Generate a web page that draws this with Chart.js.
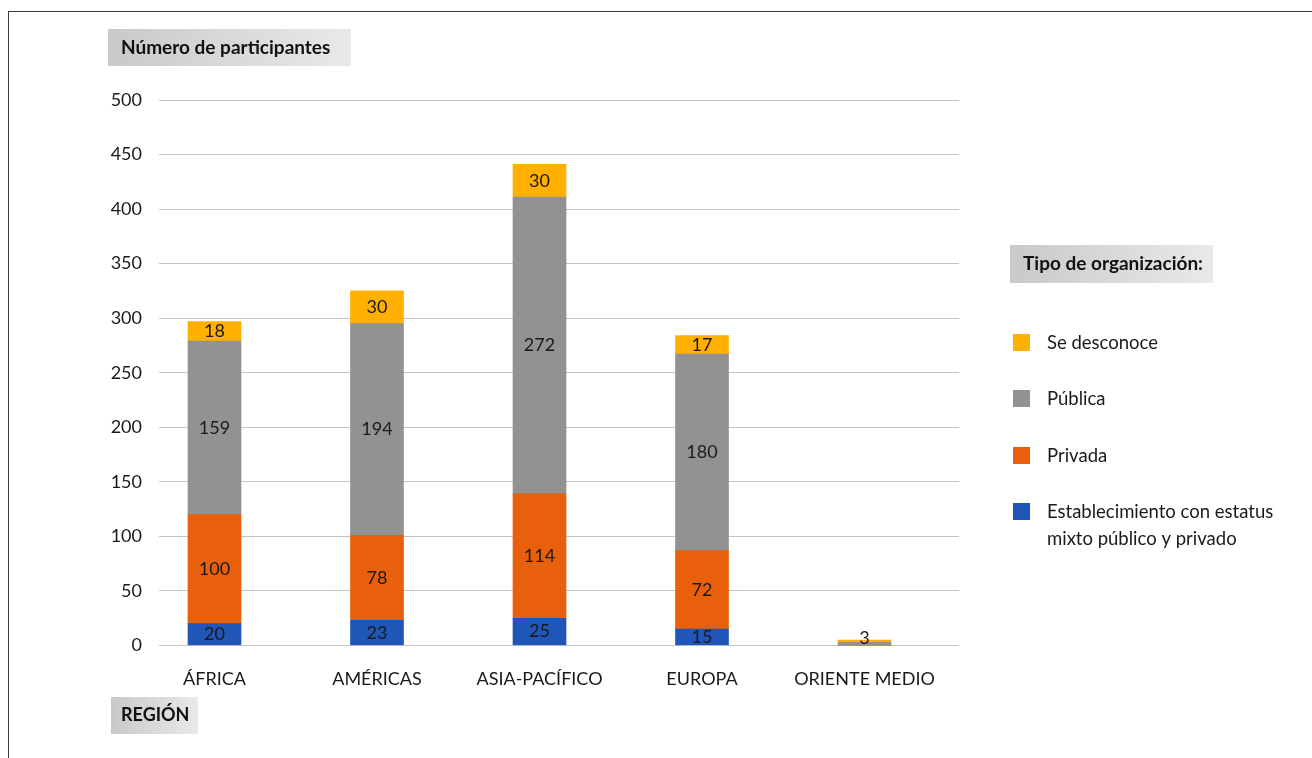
<!DOCTYPE html>
<html>
<head>
<meta charset="utf-8">
<script src="https://cdn.jsdelivr.net/npm/chart.js@4.4.1/dist/chart.umd.min.js"></script>
<style>
  html, body { margin: 0; padding: 0; background: #fff; overflow: hidden; }
  #wrap { width: 1312px; height: 758px; }
</style>
</head>
<body>
<div id="wrap"><canvas id="myChart" width="1312" height="758"></canvas></div>
<script>
const graph = document.getElementById('myChart')

// datos
const regiones = ['ÁFRICA', 'AMÉRICAS', 'ASIA-PACÍFICO', 'EUROPA', 'ORIENTE MEDIO']
const mixto = [20, 23, 25, 15, 0]
const privada = [100, 78, 114, 72, 0]
const publica = [159, 194, 272, 180, 3]
const desconoce = [18, 30, 30, 17, 2]
const tiposOrg = [
    ['Establecimiento con estatus', 'mixto público y privado'],
    ['Privada'],
    ['Pública'],
    ['Se desconoce']
]
const colores = ['#1f56b8', '#e8600b', '#929292', '#ffb000']
const yTicks = [0, 50, 100, 150, 200, 250, 300, 350, 400, 450, 500]

const FONT = 'Lato, "Open Sans", sans-serif'

const toPoints = (arr) => arr.map((v, i) => ({ x: i, y: v }))

const series = [mixto, privada, publica, desconoce]
const datasets = series.map((s, k) => ({
    label: tiposOrg[k].join(' '),
    lines: tiposOrg[k],
    data: toPoints(s),
    backgroundColor: colores[k],
    borderWidth: 0,
    barThickness: 53
}))

// marco, cajas de titulo, leyenda y etiquetas
const extras = {
    id: 'extras',
    beforeDraw(chart) {
        const ctx = chart.ctx
        ctx.save()
        ctx.fillStyle = '#fff'
        ctx.fillRect(0, 0, chart.width, chart.height)
        ctx.strokeStyle = '#3c3c3c'
        ctx.lineWidth = 1
        ctx.strokeRect(8.5, 11.5, 1400, 800)
        ctx.restore()
    },
    afterDatasetsDraw(chart) {
        const ctx = chart.ctx
        ctx.save()
        ctx.font = '18px ' + FONT
        ctx.fillStyle = '#1a1a1a'
        ctx.textAlign = 'center'
        ctx.textBaseline = 'middle'
        chart.data.datasets.forEach((ds, k) => {
            const meta = chart.getDatasetMeta(k)
            meta.data.forEach((bar, i) => {
                const v = ds.data[i].y
                if (v < 3) return
                let y = (bar.y + bar.base) / 2
                if (bar.base - bar.y < 12) y = bar.y - 4
                ctx.fillText(String(v), bar.x, y)
            })
        })
        ctx.restore()
    },
    afterDraw(chart) {
        const ctx = chart.ctx
        ctx.save()
        const caja = (x, y, w, h, texto, dx, size) => {
            const g = ctx.createLinearGradient(x, 0, x + w, 0)
            g.addColorStop(0, '#c9c9c9')
            g.addColorStop(1, '#e9e9e9')
            ctx.fillStyle = g
            ctx.fillRect(x, y, w, h)
            ctx.fillStyle = '#111'
            ctx.font = 'bold ' + size + 'px ' + FONT
            ctx.textBaseline = 'middle'
            ctx.textAlign = 'left'
            ctx.fillText(texto, x + dx, y + h / 2)
        }
        caja(108, 29, 243, 37, 'Número de participantes', 13, 19)
        caja(111, 697, 87, 37, 'REGIÓN', 10, 18)
        caja(1010, 245, 203, 38, 'Tipo de organización:', 13, 19)

        // leyenda (orden inverso)
        const tops = [334, 390, 447, 503]
        const ds = chart.data.datasets.slice().reverse()
        ctx.font = '18.5px ' + FONT
        ds.forEach((d, j) => {
            ctx.fillStyle = d.backgroundColor
            ctx.fillRect(1013, tops[j], 17, 17)
            ctx.fillStyle = '#1a1a1a'
            d.lines.forEach((ln, r) => {
                ctx.fillText(ln, 1047, tops[j] + 9 + r * 27)
            })
        })
        ctx.restore()
    }
}

const config = {
    type: 'bar',
    data: { datasets },
    options: {
        responsive: false,
        animation: false,
        layout: { padding: { top: 100, right: 353, bottom: 0, left: 0 } },
        plugins: {
            legend: { display: false },
            tooltip: { enabled: false }
        },
        scales: {
            x: {
                type: 'linear',
                stacked: true,
                offset: false,
                min: -0.3415,
                max: 4.5815,
                grid: { display: false },
                border: { display: false },
                afterFit: (s) => { s.height = 112.5 },
                afterBuildTicks: (s) => { s.ticks = regiones.map((r, i) => ({ value: i })) },
                ticks: {
                    autoSkip: false,
                    maxRotation: 0,
                    padding: 15,
                    color: '#1a1a1a',
                    font: { family: FONT, size: 18 },
                    callback: (v) => regiones[v]
                }
            },
            y: {
                stacked: true,
                min: 0,
                max: 500,
                afterFit: (s) => { s.width = 159 },
                afterBuildTicks: (s) => { s.ticks = yTicks.map((t) => ({ value: t })) },
                grid: { color: '#c4c4c4', lineWidth: 1, drawTicks: false },
                border: { display: false },
                ticks: {
                    padding: 17,
                    color: '#1a1a1a',
                    font: { family: FONT, size: 18 }
                }
            }
        }
    },
    plugins: [extras]
}

new Chart(graph, config)
</script>
</body>
</html>
